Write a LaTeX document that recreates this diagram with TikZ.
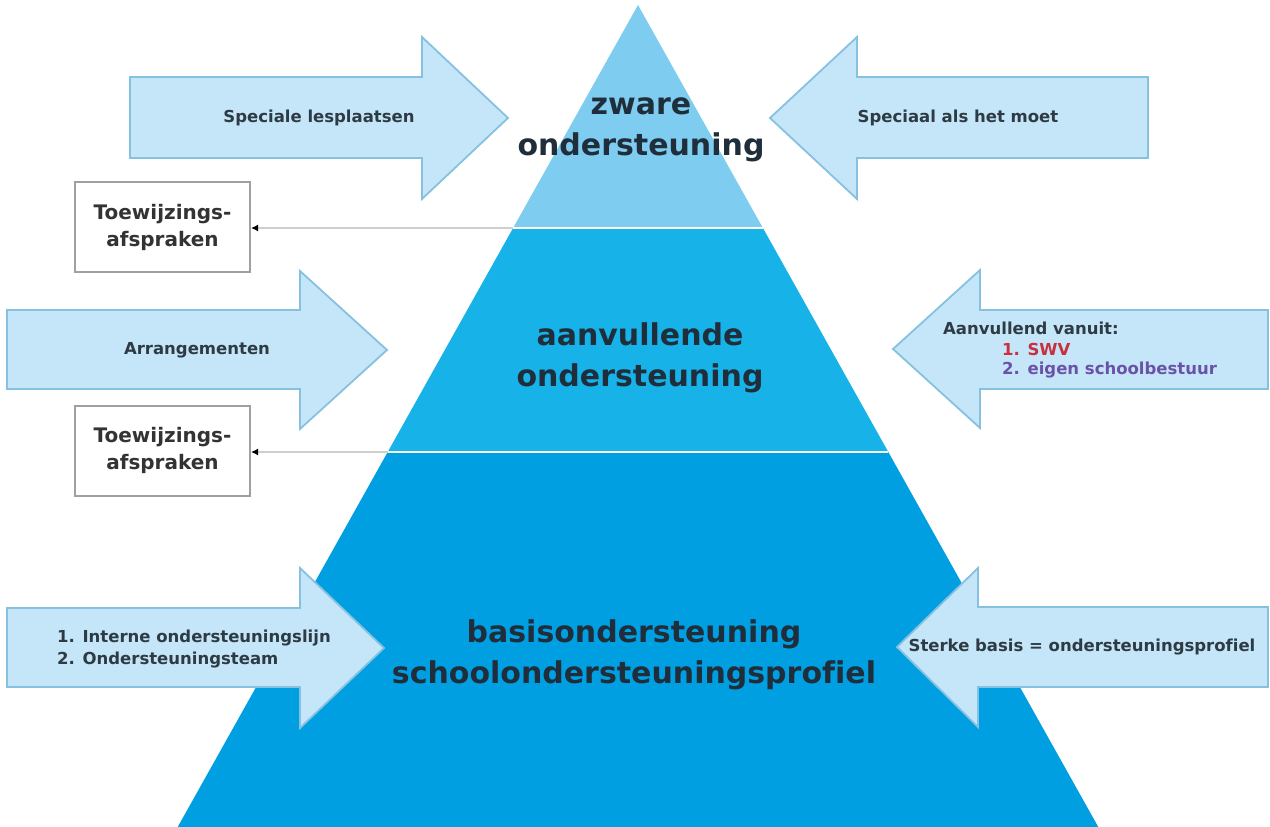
\documentclass[tikz,border=0pt]{standalone}
\usepackage{fontspec}
\setmainfont{DejaVu Sans}[Ligatures=NoCommon]
\usetikzlibrary{arrows.meta}
\definecolor{topc}{HTML}{7ECCF0}
\definecolor{midc}{HTML}{16B2E8}
\definecolor{botc}{HTML}{009FE1}
\definecolor{arrfill}{HTML}{C4E6F8}
\definecolor{arrdraw}{HTML}{86C1E0}
\definecolor{txtc}{HTML}{1F2E3A}
\definecolor{smallc}{HTML}{2E3B44}
\definecolor{boxdraw}{HTML}{A0A0A0}
\definecolor{linec}{HTML}{CFCFCF}
\definecolor{swvc}{HTML}{C8303E}
\definecolor{eigc}{HTML}{6A52A8}
\tikzset{
  blockarrow/.style={fill=arrfill, draw=arrdraw, line width=1.8pt, line join=miter},
  bigtext/.style={font=\fontsize{30}{40.5}\selectfont\bfseries, text=txtc, align=center, inner sep=0pt},
  smalltext/.style={font=\fontsize{16.5}{22}\selectfont\bfseries, text=smallc, inner sep=0pt},
  boxnode/.style={draw=boxdraw, line width=2pt, fill=white, minimum width=175pt, minimum height=90pt, align=center, inner sep=0pt, font=\fontsize{20}{27}\selectfont\bfseries, text=black!80},
  connector/.style={draw=linec, line width=2.5pt, -{Latex[length=7pt,width=7pt,black]}, shorten >=0pt}
}
\begin{document}
\begin{tikzpicture}[x=1pt,y=-1pt]
\useasboundingbox (0,0) rectangle (1270,827);
% pyramid
\fill[botc] (387.7,452) -- (888.3,452) -- (1098.3,827) -- (177.7,827) -- cycle;
\fill[midc] (513.1,228) -- (762.9,228) -- (888.3,452) -- (387.7,452) -- cycle;
\fill[topc] (638,5) -- (762.9,228) -- (513.1,228) -- cycle;
\coordinate (b1l) at (513.1,228);
\coordinate (b1r) at (762.9,228);
\coordinate (b2l) at (387.7,452);
\coordinate (b2r) at (888.3,452);
\draw[white, line width=2.5pt] (b1l) -- (b1r);
\draw[white, line width=2.5pt] (b2l) -- (b2r);
% pyramid labels
\node[bigtext] (lvl1) at (641,130) {zware\\ondersteuning};
\node[bigtext] (lvl2) at (640,358) {aanvullende\\ondersteuning};
\node[bigtext] (lvl3) at (634,655) {basisondersteuning\\schoolondersteuningsprofiel};
% block arrows
\draw[blockarrow] (130,77) -- (422,77) -- (422,37) -- (508,118) -- (422,199) -- (422,158) -- (130,158) -- cycle;
\draw[blockarrow] (1148,77) -- (857,77) -- (857,37) -- (770,118) -- (857,199) -- (857,158) -- (1148,158) -- cycle;
\draw[blockarrow] (7,310) -- (300,310) -- (300,271) -- (387,350) -- (300,429) -- (300,389) -- (7,389) -- cycle;
\draw[blockarrow] (1268,310) -- (980,310) -- (980,270) -- (893,349) -- (980,428) -- (980,389) -- (1268,389) -- cycle;
\draw[blockarrow] (7,608) -- (300,608) -- (300,568) -- (384,648) -- (300,728) -- (300,687) -- (7,687) -- cycle;
\draw[blockarrow] (1268,607) -- (978,607) -- (978,568) -- (897,647) -- (978,727) -- (978,687) -- (1268,687) -- cycle;
% arrow texts
\node[smalltext] (a1) at (319,118) {Speciale lesplaatsen};
\node[smalltext] (a2) at (958,118) {Speciaal als het moet};
\node[smalltext] (a3) at (197,350) {Arrangementen};
\node[smalltext, anchor=west] (a4) at (943,328) {Aanvullend vanuit:};
\node[smalltext, anchor=west, text=swvc] (a4b) at (1002,349) {1. SWV};
\node[smalltext, anchor=west, text=eigc] (a4c) at (1002,370) {2. eigen schoolbestuur};
\node[smalltext, anchor=west] (a5) at (57,638) {1. Interne ondersteuningslijn};
\node[smalltext, anchor=west] (a5b) at (57,660) {2. Ondersteuningsteam};
\node[smalltext] (a6) at (1082,647) {Sterke basis = ondersteuningsprofiel};
% boxes
\node[boxnode] (box1) at (162.5,227) {Toewijzings-\\afspraken};
\node[boxnode] (box2) at (162.5,450.5) {Toewijzings-\\afspraken};
\draw[connector] (b1l) -- (box1.east |- b1l);
\draw[connector] (b2l) -- (box2.east |- b2l);
\end{tikzpicture}
\end{document}
